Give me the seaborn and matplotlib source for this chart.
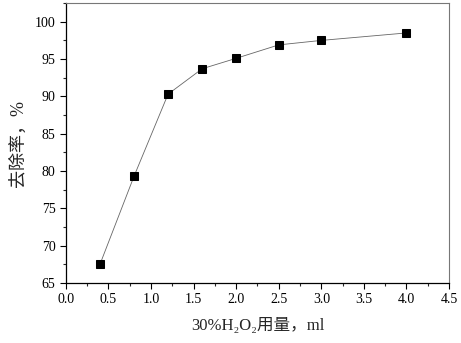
import matplotlib
matplotlib.use("Agg")
import matplotlib.pyplot as plt
import seaborn as sns
import pandas as pd
from matplotlib.ticker import MultipleLocator

# H2O2 dosage (ml) vs removal rate (%)
dosage = [0.4, 0.8, 1.2, 1.6, 2.0, 2.5, 3.0, 4.0]
removal = [67.5, 79.3, 90.3, 93.7, 95.1, 96.9, 97.5, 98.5]

sns.set_style("ticks")
plt.rcParams["font.family"] = ["Liberation Serif", "Noto Sans CJK SC", "DejaVu Serif"]

df = pd.DataFrame({"dosage": dosage, "removal": removal})

fig = plt.figure(figsize=(4.61, 3.43), dpi=100)
ax = fig.add_axes([0.143, 0.175, 0.831, 0.816])

sns.lineplot(data=df, x="dosage", y="removal", ax=ax, color="#666666",
             linewidth=0.6, marker="s", markersize=5.5, markerfacecolor="black",
             markeredgecolor="black")

ax.set_xlim(0, 4.5)
ax.set_ylim(65, 102.5)
ax.xaxis.set_major_locator(MultipleLocator(0.5))
ax.xaxis.set_minor_locator(MultipleLocator(0.25))
ax.yaxis.set_major_locator(MultipleLocator(5))
ax.yaxis.set_minor_locator(MultipleLocator(2.5))
ax.tick_params(which="major", direction="out", length=4, width=0.8,
               labelsize=10, colors="black")
ax.tick_params(which="minor", direction="out", length=2, width=0.8)

for side in ["top", "right"]:
    ax.spines[side].set_visible(True)
    ax.spines[side].set_color("#777777")
    ax.spines[side].set_linewidth(0.8)
for side in ["left", "bottom"]:
    ax.spines[side].set_color("black")
    ax.spines[side].set_linewidth(0.9)

ax.set_xlabel("30%H\u2082O\u2082用量，ml", fontsize=12, labelpad=8)
ax.set_ylabel("去除率，%", fontsize=13, labelpad=6)

fig.savefig("out.png", dpi=100)
